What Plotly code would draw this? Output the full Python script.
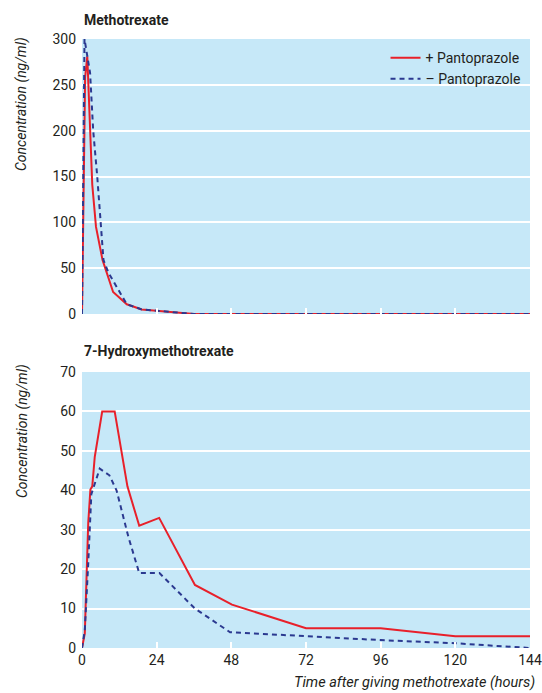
import plotly.graph_objects as go

# Methotrexate (top panel)
mtx_t_plus = [0, 1, 1.7, 3.3, 4.5, 6.6, 10, 14.4, 19.2, 31.5, 36, 48, 72, 96, 120, 144]
mtx_plus = [0, 258, 281, 141, 95, 59, 24, 10.6, 5, 1.5, 0, 0, 0, 0, 0, 0]
mtx_t_minus = [0, 0.8, 2.6, 3.6, 4.9, 6.1, 6.9, 8.5, 12.2, 14.4, 19.2, 31.5, 36, 48, 72, 96, 120, 144]
mtx_minus = [0, 300, 263, 200, 150, 99, 59, 45, 23, 10.6, 5, 1.5, 0, 0, 0, 0, 0, 0]

# 7-Hydroxymethotrexate (bottom panel)
oh_t_plus = [0, 0.9, 2.0, 2.7, 3.3, 4.1, 6.5, 10.5, 14.6, 18.4, 24.8, 36.3, 48.2, 72, 96, 120, 144]
oh_plus = [0, 3.7, 31.6, 40.2, 41, 48.5, 60, 60, 41, 31, 33, 16, 11, 5, 5, 3, 3]
oh_t_minus = [0, 0.9, 2.0, 3.0, 5.7, 8.8, 11.1, 14.9, 18.4, 24.9, 36.3, 47.6, 72, 96, 120, 144]
oh_minus = [0, 4.5, 21.4, 39, 45.5, 43.8, 40, 28.2, 19, 19, 10, 4, 3, 2, 1.2, 0]

x_ticks = [0, 24, 48, 72, 96, 120, 144]
series_names = ["+ Pantoprazole", "\u2013 Pantoprazole"]

RED = "#e8202a"
BLUE = "#2b3990"
BG = "#c6e8f8"
FONT = "Roboto, Liberation Sans, sans-serif"

fig = go.Figure()
fig.add_trace(go.Scatter(x=mtx_t_plus, y=mtx_plus, mode="lines", name=series_names[0],
                         line=dict(color=RED, width=2), xaxis="x", yaxis="y"))
fig.add_trace(go.Scatter(x=mtx_t_minus, y=mtx_minus, mode="lines", name=series_names[1],
                         line=dict(color=BLUE, width=2, dash="5px,4px"), xaxis="x", yaxis="y"))
fig.add_trace(go.Scatter(x=oh_t_plus, y=oh_plus, mode="lines", showlegend=False,
                         line=dict(color=RED, width=2), xaxis="x2", yaxis="y2"))
fig.add_trace(go.Scatter(x=oh_t_minus, y=oh_minus, mode="lines", showlegend=False,
                         line=dict(color=BLUE, width=2, dash="5px,4px"), xaxis="x2", yaxis="y2"))

H = 693
L, R, T, B = 82, 12, 39, 45
ph = H - T - B
top_lo = (H - B - 314) / ph
bot_hi = (H - B - 372) / ph

xcommon = dict(range=[0, 144], tickvals=x_ticks, ticks="inside", ticklen=6, tickwidth=1.5,
               tickcolor="white", showgrid=False, zeroline=False, showline=False,
               fixedrange=True, automargin=False)
ycommon = dict(showgrid=True, gridcolor="white", gridwidth=1.5, zeroline=False, ticks="",
               ticklabelstandoff=5, automargin=False, fixedrange=True)
fig.update_layout(
    width=542, height=693,
    margin=dict(l=L, r=R, t=T, b=B, autoexpand=False),
    paper_bgcolor="white", plot_bgcolor=BG,
    font=dict(family=FONT, size=14, color="#231f20"),
    xaxis=dict(domain=[0, 1], anchor="y", showticklabels=False, **xcommon),
    yaxis=dict(domain=[top_lo, 1], range=[0, 300], tickvals=[0, 50, 100, 150, 200, 250, 300],
               **ycommon),
    xaxis2=dict(domain=[0, 1], anchor="y2", showticklabels=True, ticklabelstandoff=2, **xcommon),
    yaxis2=dict(domain=[0, bot_hi], range=[0, 70], tickvals=[0, 10, 20, 30, 40, 50, 60, 70],
                **ycommon),
    legend=dict(x=0.99, y=0.995, xanchor="right", yanchor="top", bgcolor="rgba(0,0,0,0)",
                font=dict(size=14), tracegroupgap=0, itemwidth=30),
    showlegend=True,
)

fig.add_annotation(text="<b>Methotrexate</b>", xref="paper", yref="paper", x=0, y=1,
                   xanchor="left", yanchor="bottom", yshift=9, showarrow=False, font=dict(size=14))
fig.add_annotation(text="<b>7-Hydroxymethotrexate</b>", xref="paper", yref="paper", x=0, y=bot_hi,
                   xanchor="left", yanchor="bottom", yshift=11, showarrow=False, font=dict(size=14))
fig.add_annotation(text="<i>Concentration (ng/ml)</i>", xref="paper", yref="paper",
                   x=0, xshift=-60, xanchor="center", y=(H - B - 104) / ph, yanchor="middle",
                   textangle=-90, showarrow=False, font=dict(size=14))
fig.add_annotation(text="<i>Concentration (ng/ml)</i>", xref="paper", yref="paper",
                   x=0, xshift=-60, xanchor="center", y=(H - B - 431) / ph, yanchor="middle",
                   textangle=-90, showarrow=False, font=dict(size=14))
fig.add_annotation(text="<i>Time after giving methotrexate (hours)</i>", xref="paper", yref="paper",
                   x=1, xshift=R - 5, y=0, yshift=-24, xanchor="right", yanchor="top",
                   showarrow=False, font=dict(size=14.5))

fig.write_html("out.html", config={"displayModeBar": False},
               post_script="document.body.style.margin='0';document.body.style.padding='0';")
